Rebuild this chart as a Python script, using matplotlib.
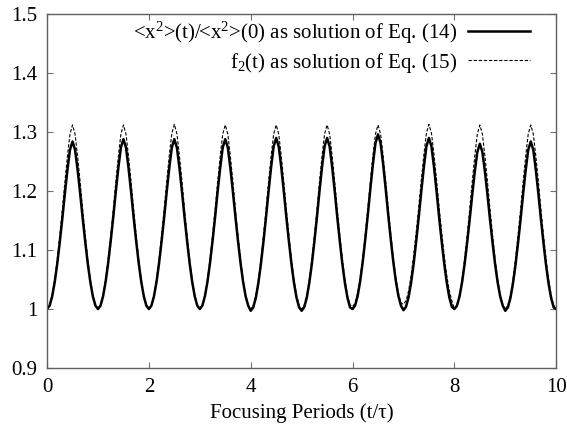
# Envelope ratio vs. focusing periods, solid = Eq. (14), dashed = Eq. (15)

import numpy as np
import matplotlib.pyplot as plt

plt.rcParams['font.family'] = ['Liberation Serif', 'DejaVu Serif']
plt.rcParams['mathtext.fontset'] = 'custom'
plt.rcParams['mathtext.rm'] = 'Liberation Serif'
plt.rcParams['mathtext.it'] = 'Liberation Serif:italic'

# === Data ===
# one focusing period, sampled every 0.05 (0 = trough, 1 = peak)
period_offsets = [0.00, 0.05, 0.10, 0.15, 0.20, 0.25, 0.30, 0.35, 0.40, 0.45, 0.50,
                  0.55, 0.60, 0.65, 0.70, 0.75, 0.80, 0.85, 0.90, 0.95]
period_shape = [0.00, 0.02, 0.075, 0.16, 0.27, 0.40, 0.54, 0.69, 0.83, 0.95, 1.00,
                0.95, 0.83, 0.69, 0.54, 0.40, 0.27, 0.16, 0.075, 0.02]

periods = [0, 1, 2, 3, 4, 5, 6, 7, 8, 9]
# Eq. (14) solution: trough at start of each period and peak height
eq14_trough = [1.000, 1.000, 1.000, 1.000, 0.997, 0.997, 1.000, 0.998, 1.000, 0.997]
eq14_peak = [1.284, 1.288, 1.288, 1.288, 1.290, 1.290, 1.296, 1.290, 1.280, 1.284]
# Eq. (15) solution f2(t)
eq15_trough = [1.000, 1.000, 1.000, 1.000, 1.000, 1.000, 1.004, 1.008, 1.000, 1.000]
eq15_peak = [1.312, 1.312, 1.313, 1.312, 1.312, 1.312, 1.312, 1.313, 1.312, 1.312]
end_value = 1.0

x_ticks = [0, 2, 4, 6, 8, 10]
y_ticks = [0.9, 1.0, 1.1, 1.2, 1.3, 1.4, 1.5]
y_tick_labels = ["0.9", "1", "1.1", "1.2", "1.3", "1.4", "1.5"]


def build_curve(troughs, peaks):
    t, y = [], []
    for k, lo, hi in zip(periods, troughs, peaks):
        for off, s in zip(period_offsets, period_shape):
            t.append(k + off)
            y.append(lo + s * (hi - lo))
    t.append(periods[-1] + 1)
    y.append(end_value)
    return np.array(t), np.array(y)


t14, y14 = build_curve(eq14_trough, eq14_peak)
t15, y15 = build_curve(eq15_trough, eq15_peak)

# === Plotting ===
fig = plt.figure(figsize=(5.67, 4.24), dpi=100)
ax = fig.add_axes([0.083, 0.132, 0.898, 0.835])

ax.plot(t14, y14, color="black", lw=1.8, solid_joinstyle="round",
        label=r"<x$^2$>(t)/<x$^2$>(0) as solution of Eq. (14)")
ax.plot(t15, y15, color="black", lw=0.8, dashes=(3, 1.6),
        label=r"f$_2$(t) as solution of Eq. (15)")

ax.set_xlim(0, 10)
ax.set_ylim(0.9, 1.5)
ax.set_xticks(x_ticks)
ax.set_yticks(y_ticks)
ax.set_yticklabels(y_tick_labels)
ax.tick_params(direction="in", length=4.5, width=0.8, color="#707070",
               top=True, right=True, labelsize=15, pad=7)
for sp in ax.spines.values():
    sp.set_color("#606060")
    sp.set_linewidth(1.0)

ax.set_xlabel("Focusing Periods (t/\u03c4)", fontsize=15, labelpad=5)

ax.legend(loc="upper right", bbox_to_anchor=(0.949, 0.985), frameon=False,
          markerfirst=False, fontsize=15, handlelength=3.0, handletextpad=0.5,
          labelspacing=0.25, borderaxespad=0, borderpad=0)

fig.savefig("out.png", dpi=100)
